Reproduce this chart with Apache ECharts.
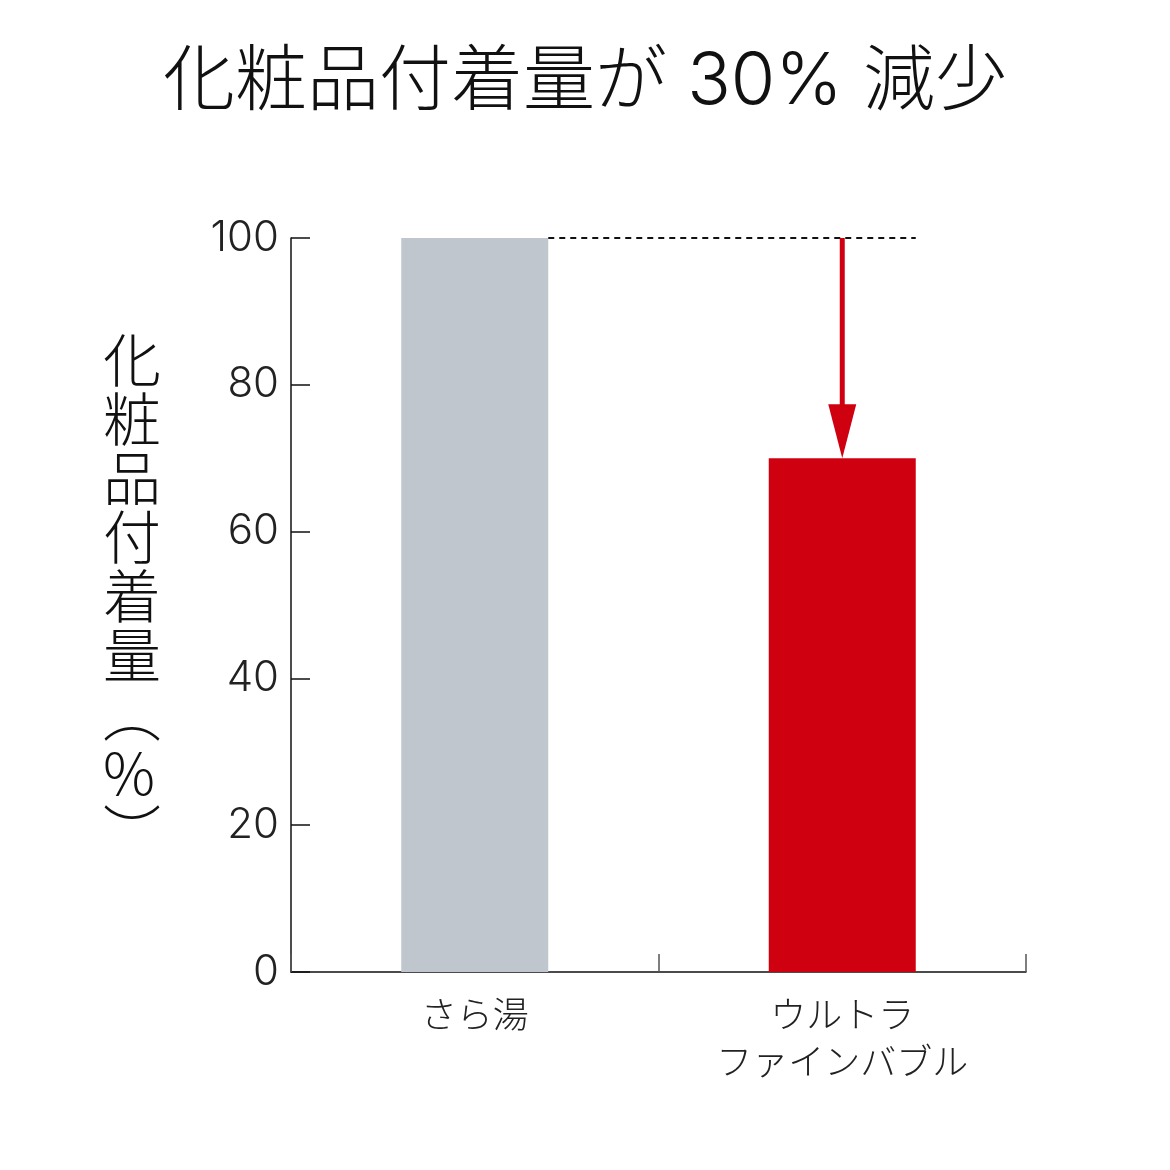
<!DOCTYPE html>
<html>
<head>
<meta charset="utf-8">
<script src="https://cdn.jsdelivr.net/npm/echarts@6/dist/echarts.min.js"></script>
<style>html,body{margin:0;padding:0;background:#fff}#c{width:1170px;height:1170px}</style>
</head>
<body>
<div id="c"></div>
<script>
const titleText = '化粧品付着量が 30% 減少';
const yAxisTitle = ['化', '粧', '品', '付', '着', '量', '︵', '%', '︶'];
const categories = ['さら湯', 'ウルトラ\nファインバブル'];
const values = [100, 70];
const barColors = ['#c0c6ce', '#cf0010'];
const yTicks = [0, 20, 40, 60, 80, 100];
const reference = 100;

const chart = echarts.init(document.getElementById('c'));
const fontLatin = "Inter,'Noto Sans CJK JP',sans-serif";
const fontJp = "'Noto Sans CJK JP',sans-serif";

chart.setOption({
  backgroundColor: '#fff',
  animation: false,
  title: {
    text: titleText,
    left: 'center',
    top: 41,
    textStyle: { fontSize: 72, fontWeight: 300, color: '#111', fontFamily: fontLatin }
  },
  grid: { left: 291, right: 144, top: 238, bottom: 198 },
  xAxis: {
    type: 'category',
    data: categories,
    axisLine: { lineStyle: { color: '#111', width: 1.5 } },
    axisTick: { show: true, interval: 0, inside: true, length: 18, lineStyle: { color: '#555', width: 1.5 } },
    axisLabel: { fontSize: 36, lineHeight: 47, margin: 19, color: '#222', fontWeight: 300, fontFamily: fontJp }
  },
  yAxis: {
    type: 'value',
    min: yTicks[0],
    max: yTicks[yTicks.length - 1],
    interval: 20,
    splitLine: { show: false },
    axisLine: { show: true, lineStyle: { color: '#111', width: 1.5 } },
    axisTick: { show: true, inside: true, length: 19, lineStyle: { color: '#111', width: 1.5 } },
    axisLabel: { fontSize: 42, margin: 12, color: '#222', fontWeight: 300, fontFamily: fontLatin }
  },
  graphic: [{
    type: 'text',
    left: 103,
    top: 330,
    style: {
      text: yAxisTitle.join('\n'),
      fontSize: 58,
      lineHeight: 59,
      fill: '#111',
      fontWeight: 300,
      align: 'center',
      fontFamily: fontJp
    }
  }],
  series: [{
    type: 'bar',
    barWidth: '40%',
    data: values.map((v, i) => ({ value: v, itemStyle: { color: barColors[i] } }))
  }, {
    type: 'custom',
    data: [[1, reference, values[1]]],
    z: 5,
    renderItem: function (params, api) {
      const band = api.size([1, 0])[0];
      const half = band * 0.2;
      const p0 = api.coord([0, reference]);
      const top = api.coord([api.value(0), api.value(1)]);
      const bottom = api.coord([api.value(0), api.value(2)]);
      const headH = 54, headW = 28;
      return {
        type: 'group',
        children: [{
          type: 'line',
          shape: { x1: p0[0] + half, y1: p0[1], x2: top[0] + half, y2: top[1] },
          style: { stroke: '#111', lineWidth: 2, lineDash: [6, 5] }
        }, {
          type: 'line',
          shape: { x1: top[0], y1: top[1], x2: bottom[0], y2: bottom[1] - headH + 2 },
          style: { stroke: '#cf0010', lineWidth: 5 }
        }, {
          type: 'polygon',
          shape: { points: [[bottom[0] - headW / 2, bottom[1] - headH], [bottom[0] + headW / 2, bottom[1] - headH], [bottom[0], bottom[1]]] },
          style: { fill: '#cf0010' }
        }]
      };
    }
  }]
});
</script>
</body>
</html>
